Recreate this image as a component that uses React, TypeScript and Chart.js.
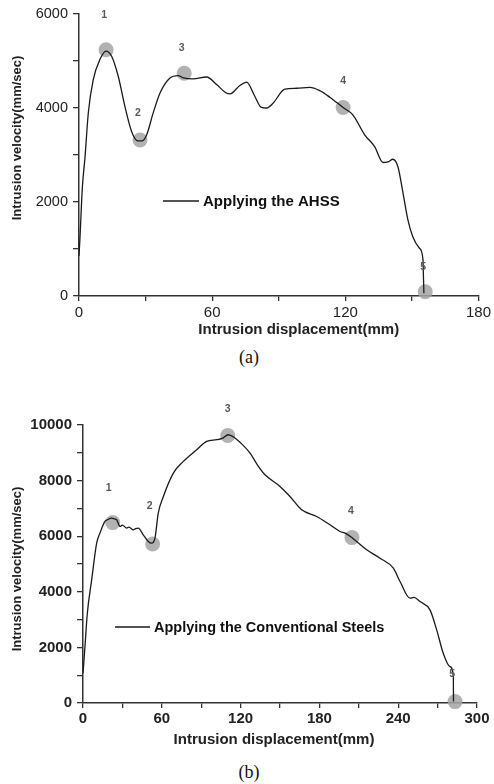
import React, { useEffect, useRef } from 'react';
import { Chart, registerables } from 'chart.js';

Chart.register(...registerables);

const FONT = '"Liberation Sans", Arial, sans-serif';

// ---------- Panel (a): AHSS ----------
const dispA = [0, 0.5, 1.5, 2.7, 4.2, 6.4, 9.4, 12.2, 14.7, 17.7, 20.7, 23.7, 26.5, 28.5, 30.5, 33.4, 36.5, 41, 44.7, 47, 51.4, 57.5, 62, 66, 68, 72.5, 75.5, 79.2, 82, 84.5, 87.4, 92.7, 98, 104, 108.5, 113, 119, 123.4, 128.7, 133.2, 137, 139.5, 141.4, 143.7, 146, 148.2, 150.4, 153.4, 155, 155.2, 155.4];
const velA = [850, 1300, 2300, 2950, 3900, 4600, 5030, 5210, 5100, 4670, 4030, 3500, 3300, 3300, 3430, 3890, 4320, 4640, 4690, 4640, 4620, 4660, 4500, 4330, 4300, 4480, 4550, 4250, 4020, 4000, 4100, 4400, 4420, 4440, 4370, 4230, 4010, 3855, 3430, 3180, 2840, 2860, 2910, 2750, 2190, 1620, 1260, 1015, 770, 410, 60];
const markDispA = [12.2, 27.5, 47.4, 119, 156];
const markVelA = [5240, 3320, 4740, 4010, 90];
const xTicksA = [0, 60, 120, 180];
const yTicksA = [0, 2000, 4000, 6000];
const legendA = 'Applying the AHSS';

// ---------- Panel (b): Conventional steels ----------
const dispB = [0, 1.5, 3.3, 6.6, 10.4, 12.9, 16.7, 19, 21.8, 24, 25.6, 28.2, 30, 33.3, 35, 38.3, 40, 42.1, 45.9, 49.7, 52.3, 54.8, 57.3, 61.2, 68.8, 76.4, 86.6, 94.2, 101.8, 106, 110.6, 115, 119.5, 127.2, 133, 138.6, 150, 157.6, 166.5, 177.9, 188, 195.7, 200, 205.3, 216, 226.1, 236.3, 241.4, 249, 252, 256.6, 264.2, 269.3, 274.3, 279.4, 282, 282.1];
const velB = [1070, 2030, 3230, 4430, 5750, 6110, 6530, 6600, 6650, 6620, 6590, 6350, 6400, 6290, 6330, 6230, 6270, 6290, 6050, 5810, 5750, 5930, 6830, 7430, 8270, 8690, 9110, 9410, 9470, 9520, 9650, 9560, 9380, 8990, 8550, 8210, 7790, 7430, 6950, 6710, 6410, 6170, 6100, 5930, 5510, 5210, 4850, 4370, 3770, 3800, 3650, 3350, 2630, 1790, 1310, 950, 50];
const markDispB = [22.6, 53, 110.2, 204.8, 283.3];
const markVelB = [6490, 5720, 9620, 5950, 50];
const xTicksB = [0, 60, 120, 180, 240, 300];
const yTicksB = [0, 2000, 4000, 6000, 8000, 10000];
const legendB = 'Applying the Conventional Steels';

const markerLabels = ['1', '2', '3', '4', '5'];
const xTitle = 'Intrusion displacement(mm)';
const yTitle = 'Intrusion velocity(mm/sec)';

const annotPlugin = {
  id: 'annot',
  afterDatasetsDraw(chart: any, _args: any, o: any) {
    const { ctx, chartArea: a, scales } = chart;
    ctx.save();
    // marker labels
    ctx.fillStyle = '#5a5a5a';
    ctx.font = `bold 10.5px ${FONT}`;
    ctx.textAlign = 'center';
    ctx.textBaseline = 'middle';
    o.labels.forEach((t: string, i: number) => {
      const px = scales.x.getPixelForValue(o.mx[i]) + o.labelDx[i];
      const py = scales.y.getPixelForValue(o.my[i]) - o.labelDy[i];
      ctx.fillText(t, px, py);
    });
    // legend
    ctx.strokeStyle = '#1a1a1a';
    ctx.lineWidth = 1.4;
    ctx.beginPath();
    ctx.moveTo(o.legend.x1, o.legend.y);
    ctx.lineTo(o.legend.x2, o.legend.y);
    ctx.stroke();
    ctx.fillStyle = '#111';
    ctx.font = `bold ${o.legend.size}px ${FONT}`;
    ctx.textAlign = 'left';
    ctx.fillText(o.legend.text, o.legend.x2 + 4, o.legend.y + 1);
    // x title
    ctx.fillStyle = '#222';
    ctx.font = `bold 15px ${FONT}`;
    ctx.textAlign = 'center';
    ctx.fillText(o.xTitle, (a.left + a.right) / 2 + o.xTitleDx, a.bottom + o.xTitleDy);
    // y title
    ctx.translate(o.yTitleX, (a.top + a.bottom) / 2 + o.yTitleDy);
    ctx.rotate(-Math.PI / 2);
    ctx.font = `bold 13px ${FONT}`;
    ctx.fillText(o.yTitle, 0, 0);
    ctx.restore();
  },
};

function buildChart(canvas: HTMLCanvasElement, p: any) {
  const line = p.xs.map((x: number, i: number) => ({ x, y: p.ys[i] }));
  const marks = p.mx.map((x: number, i: number) => ({ x, y: p.my[i] }));
  return new Chart(canvas, {
    type: 'line',
    data: {
      datasets: [
        {
          data: line,
          borderColor: '#1a1a1a',
          borderWidth: 1.3,
          pointRadius: 0,
          tension: p.tension,
          cubicInterpolationMode: p.mono ? 'monotone' : 'default',
          fill: false,
        },
        {
          data: marks,
          showLine: false,
          pointRadius: 7.5,
          pointBackgroundColor: 'rgba(165,165,165,0.85)',
          pointBorderWidth: 0,
          clip: false,
        } as any,
      ],
    },
    plugins: [annotPlugin],
    options: {
      animation: false,
      responsive: false,
      devicePixelRatio: 1,
      layout: { padding: p.pad },
      plugins: {
        legend: { display: false },
        tooltip: { enabled: false },
        annot: {
          labels: markerLabels,
          mx: p.mx,
          my: p.my,
          labelDx: p.labelDx,
          labelDy: p.labelDy,
          legend: p.legend,
          xTitle,
          yTitle,
          xTitleDx: p.xTitleDx,
          xTitleDy: p.xTitleDy,
          yTitleX: p.yTitleX,
          yTitleDy: p.yTitleDy,
        },
      } as any,
      scales: {
        x: {
          type: 'linear',
          min: 0,
          max: p.xMax,
          ticks: {
            stepSize: p.xStep,
            autoSkip: false,
            maxRotation: 0,
            padding: p.xPad,
            color: '#222',
            font: { family: FONT, size: p.xTickSize, weight: p.tickWeight },
            callback: (v: any) => (p.xTicks.includes(v) ? String(v) : ''),
          },
          grid: { drawOnChartArea: false, tickLength: 5, color: '#333', lineWidth: 1.3 },
          border: { color: '#333', width: 1.5 },
          afterFit: (s: any) => { s.height = p.xH; },
        },
        y: {
          type: 'linear',
          min: 0,
          max: p.yMax,
          ticks: {
            stepSize: 1000,
            autoSkip: false,
            padding: p.yPad,
            color: '#222',
            font: { family: FONT, size: p.yTickSize, weight: p.tickWeight },
            callback: (v: any) => (p.yTicks.includes(v) ? String(v) : ''),
          },
          grid: { drawOnChartArea: false, tickLength: 6, color: '#333', lineWidth: 1.3 },
          border: { color: '#333', width: 1.5 },
          afterFit: (s: any) => { s.width = p.yW; },
        },
      },
    } as any,
  });
}

export default function App() {
  const refA = useRef<HTMLCanvasElement>(null);
  const refB = useRef<HTMLCanvasElement>(null);

  useEffect(() => {
    const a = buildChart(refA.current!, {
      xs: dispA, ys: velA, mx: markDispA, my: markVelA,
      xTicks: xTicksA, yTicks: yTicksA, xMax: 180, yMax: 6000, xStep: 30,
      tension: 0.3, mono: true,
      pad: { left: 0, top: 14, right: 15, bottom: 0 },
      xH: 49, yW: 79, xPad: 3, yPad: 5,
      xTickSize: 15, yTickSize: 14.5, tickWeight: 'normal',
      labelDx: [-2, -2, -2.5, 0, -2], labelDy: [35, 27, 25, 26, 25],
      legend: { x1: 163, x2: 199, y: 201, text: legendA, size: 15 },
      xTitleDx: 20, xTitleDy: 34, yTitleX: 17, yTitleDy: -17,
    });
    const b = buildChart(refB.current!, {
      xs: dispB, ys: velB, mx: markDispB, my: markVelB,
      xTicks: xTicksB, yTicks: yTicksB, xMax: 300, yMax: 10000, xStep: 30,
      tension: 0.25, mono: true,
      pad: { left: 0, top: 25, right: 17, bottom: 0 },
      xH: 57, yW: 83, xPad: 2, yPad: 5,
      xTickSize: 15, yTickSize: 15, tickWeight: 'bold',
      labelDx: [-4, -3, 0, -1, -3], labelDy: [34, 38, 26, 26, 28],
      legend: { x1: 115, x2: 150, y: 227, text: legendB, size: 14.5 },
      xTitleDx: -6, xTitleDy: 37, yTitleX: 17.5, yTitleDy: 5,
    });
    return () => { a.destroy(); b.destroy(); };
  }, []);

  const caption: React.CSSProperties = {
    position: 'absolute', left: 0, width: 498, textAlign: 'center',
    fontFamily: '"Liberation Serif", "Times New Roman", serif', fontSize: 18, lineHeight: '20px', color: '#111',
  };

  return (
    <div style={{ position: 'absolute', left: 0, top: 0, width: 494, height: 784, background: '#fff', overflow: 'hidden' }}>
      <canvas ref={refA} width={494} height={345} style={{ position: 'absolute', left: 0, top: 0 }} />
      <div style={{ ...caption, top: 347 }}>(a)</div>
      <canvas ref={refB} width={494} height={360} style={{ position: 'absolute', left: 0, top: 400 }} />
      <div style={{ ...caption, top: 762 }}>(b)</div>
    </div>
  );
}
